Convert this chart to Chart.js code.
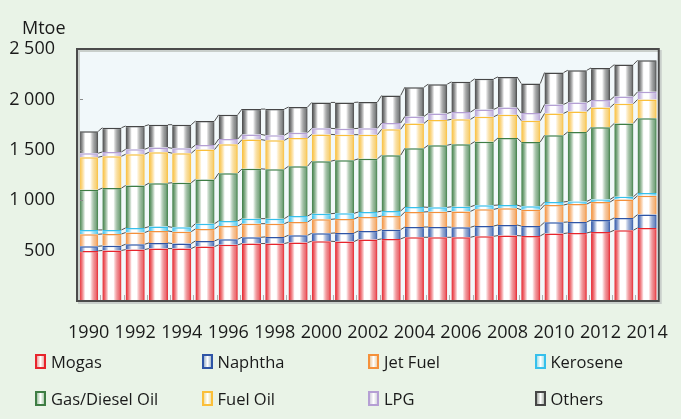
<!DOCTYPE html>
<html>
<head>
<meta charset="utf-8">
<script src="https://cdn.jsdelivr.net/npm/chart.js@4.4.0/dist/chart.umd.min.js"></script>
<style>
    html, body { margin: 0; padding: 0; }
    body { width: 681px; height: 419px; background: #e9f3e7; position: relative; overflow: hidden; font-family: "Open Sans", sans-serif; }
    #c { position: absolute; left: 0; top: 0; }
    .legend-item { position: absolute; display: flex; align-items: center; font-size: 16.5px; color: #1a1a1a; white-space: nowrap; }
    .legend-box { width: 7px; height: 11px; border: 2px solid; margin-right: 5px; box-sizing: content-box; }
</style>
</head>
<body>
<canvas id="c" width="681" height="419"></canvas>
<div id="legend"></div>
<script>
document.addEventListener('DOMContentLoaded', () => {
    // --- Data ---
    const years = ['1990', '1991', '1992', '1993', '1994', '1995', '1996', '1997', '1998', '1999',
        '2000', '2001', '2002', '2003', '2004', '2005', '2006', '2007', '2008', '2009',
        '2010', '2011', '2012', '2013', '2014'];

    const mogas = [497, 501, 510, 520, 520, 540, 557, 570, 570, 580, 593, 590, 609, 616, 632, 632, 632, 642, 649, 646, 669, 675, 685, 702, 725];
    const naphtha = [46, 46, 53, 56, 50, 56, 56, 62, 66, 72, 79, 85, 86, 92, 102, 102, 99, 102, 105, 98, 112, 109, 119, 122, 132];
    const jetFuel = [119, 118, 116, 119, 118, 119, 131, 135, 131, 132, 138, 139, 138, 135, 149, 152, 158, 165, 165, 162, 171, 178, 178, 184, 187];
    const kerosene = [43, 40, 46, 43, 43, 52, 50, 50, 50, 59, 56, 56, 50, 50, 49, 43, 46, 40, 33, 33, 30, 26, 26, 26, 27];
    const gasDiesel = [398, 415, 421, 431, 442, 439, 474, 494, 491, 494, 521, 527, 527, 553, 583, 616, 620, 632, 665, 639, 662, 689, 715, 728, 741];
    const fuelOil = [323, 316, 310, 307, 293, 296, 287, 290, 286, 280, 266, 253, 240, 257, 247, 250, 247, 247, 231, 211, 217, 204, 197, 195, 187];
    const lpg = [40, 43, 49, 46, 49, 46, 52, 52, 50, 53, 60, 60, 63, 63, 69, 66, 72, 73, 72, 75, 89, 89, 73, 72, 76];
    const others = [217, 240, 231, 227, 234, 237, 241, 251, 260, 254, 257, 260, 260, 273, 290, 290, 300, 303, 303, 293, 316, 319, 319, 316, 313];

    const yTicks = [500, 1000, 1500, 2000, 2500];

    const seriesDefs = [
        { label: 'Mogas', data: mogas, color: '#e8242c' },
        { label: 'Naphtha', data: naphtha, color: '#2e54a6' },
        { label: 'Jet Fuel', data: jetFuel, color: '#f5903a' },
        { label: 'Kerosene', data: kerosene, color: '#36c0ec' },
        { label: 'Gas/Diesel Oil', data: gasDiesel, color: '#3e7d44' },
        { label: 'Fuel Oil', data: fuelOil, color: '#fbbf3a' },
        { label: 'LPG', data: lpg, color: '#b59fd4' },
        { label: 'Others', data: others, color: '#474747' }
    ];

    const FONT = '"Open Sans", sans-serif';
    const BAR_PCT = 0.82;

    // cylinder-like shading across each bar
    const barGradient = (c, color) => {
        const xs = c.chart.scales.x;
        if (!xs || c.dataIndex === undefined || !c.chart.chartArea) return color;
        const cx = xs.getPixelForValue(c.dataIndex);
        const w = (xs.width / years.length) * BAR_PCT;
        const g = c.chart.ctx.createLinearGradient(cx - w / 2, 0, cx + w / 2, 0);
        g.addColorStop(0, color);
        g.addColorStop(0.08, color + 'cc');
        g.addColorStop(0.32, '#ffffff');
        g.addColorStop(0.58, '#ffffff');
        g.addColorStop(0.88, color + 'a0');
        g.addColorStop(1, color);
        return g;
    };

    const datasets = seriesDefs.map(s => ({
        label: s.label,
        data: s.data,
        backgroundColor: (c) => barGradient(c, s.color),
        borderColor: s.color,
        borderWidth: { top: 1.5, left: 0, right: 0, bottom: 0 },
        borderSkipped: false,
        barPercentage: BAR_PCT,
        categoryPercentage: 1
    }));

    // --- Plugins: plot background, frame, inside ticks, connectors ---
    const decorPlugin = {
        id: 'decor',
        beforeDraw(chart) {
            const { ctx, chartArea: a } = chart;
            ctx.save();
            ctx.fillStyle = '#f1f8fa';
            ctx.fillRect(a.left, a.top, a.right - a.left, a.bottom - a.top);
            ctx.restore();
        },
        afterDatasetsDraw(chart) {
            const ctx = chart.ctx;
            ctx.save();
            ctx.strokeStyle = '#505050';
            ctx.lineWidth = 1;
            chart.data.datasets.forEach((ds, di) => {
                const bars = chart.getDatasetMeta(di).data;
                for (let i = 0; i < bars.length - 1; i++) {
                    const a = bars[i], b = bars[i + 1];
                    ctx.beginPath();
                    ctx.moveTo(a.x + a.width / 2, a.y);
                    ctx.lineTo(b.x - b.width / 2, b.y);
                    ctx.stroke();
                }
            });
            ctx.restore();
        },
        afterDraw(chart) {
            const { ctx, chartArea: a, scales } = chart;
            ctx.save();
            // inside tick marks
            ctx.strokeStyle = '#8a8a8a';
            ctx.lineWidth = 1;
            yTicks.forEach(v => {
                const y = Math.round(scales.y.getPixelForValue(v)) + 0.5;
                ctx.beginPath();
                ctx.moveTo(a.left, y);
                ctx.lineTo(a.left + 6, y);
                ctx.stroke();
            });
            ctx.strokeStyle = '#b0b0b0';
            const step = (a.right - a.left) / years.length;
            for (let i = 1; i < years.length; i++) {
                const x = Math.round(a.left + step * i) + 0.5;
                ctx.beginPath();
                ctx.moveTo(x, a.bottom - 6);
                ctx.lineTo(x, a.bottom);
                ctx.stroke();
            }
            // frame with soft shadow
            ctx.strokeStyle = '#c9cfcb';
            ctx.lineWidth = 2;
            ctx.strokeRect(a.left + 2, a.top + 2, a.right - a.left, a.bottom - a.top);
            ctx.strokeStyle = '#4a4a4a';
            ctx.strokeRect(a.left, a.top, a.right - a.left, a.bottom - a.top);
            // unit label
            ctx.fillStyle = '#1a1a1a';
            ctx.font = '18px ' + FONT;
            ctx.textAlign = 'left';
            ctx.textBaseline = 'middle';
            ctx.fillText('Mtoe', 22, 29);
            ctx.restore();
        }
    };

    const fmt = (v) => String(v).replace(/\B(?=(\d{3})+(?!\d))/g, ' ');

    new Chart(document.getElementById('c'), {
        type: 'bar',
        data: { labels: years, datasets },
        options: {
            responsive: false,
            animation: false,
            layout: { padding: { top: 49, right: 15, left: 0, bottom: 0 } },
            plugins: { legend: { display: false }, tooltip: { enabled: false } },
            scales: {
                x: {
                    stacked: true,
                    grid: { display: false },
                    border: { display: false },
                    ticks: {
                        autoSkip: false,
                        maxRotation: 0,
                        padding: 13,
                        color: '#1a1a1a',
                        font: { family: FONT, size: 18 },
                        callback: (v, i) => (i % 2 === 0 ? years[i] : '')
                    },
                    afterFit: (s) => { s.height = 118; }
                },
                y: {
                    stacked: true,
                    min: 0,
                    max: 2500,
                    grid: { display: false },
                    border: { display: false },
                    afterBuildTicks: (s) => { s.ticks = yTicks.map(v => ({ value: v })); },
                    ticks: {
                        padding: 14,
                        color: '#1a1a1a',
                        font: { family: FONT, size: 18 },
                        callback: (v) => fmt(v)
                    },
                    afterFit: (s) => { s.width = 77; }
                }
            }
        },
        plugins: [decorPlugin]
    });

    // --- HTML legend, 4 columns x 2 rows ---
    const legend = document.getElementById('legend');
    seriesDefs.forEach((s, i) => {
        const col = i % 4, row = Math.floor(i / 4);
        const item = document.createElement('div');
        item.className = 'legend-item';
        item.style.left = (35 + col * 166.5) + 'px';
        item.style.top = (350 + row * 37) + 'px';
        const box = document.createElement('span');
        box.className = 'legend-box';
        box.style.borderColor = s.color;
        box.style.background = `linear-gradient(to right, ${s.color}66, #ffffff 50%, ${s.color}55)`;
        const txt = document.createElement('span');
        txt.textContent = s.label;
        item.appendChild(box);
        item.appendChild(txt);
        legend.appendChild(item);
    });
});
</script>
</body>
</html>
